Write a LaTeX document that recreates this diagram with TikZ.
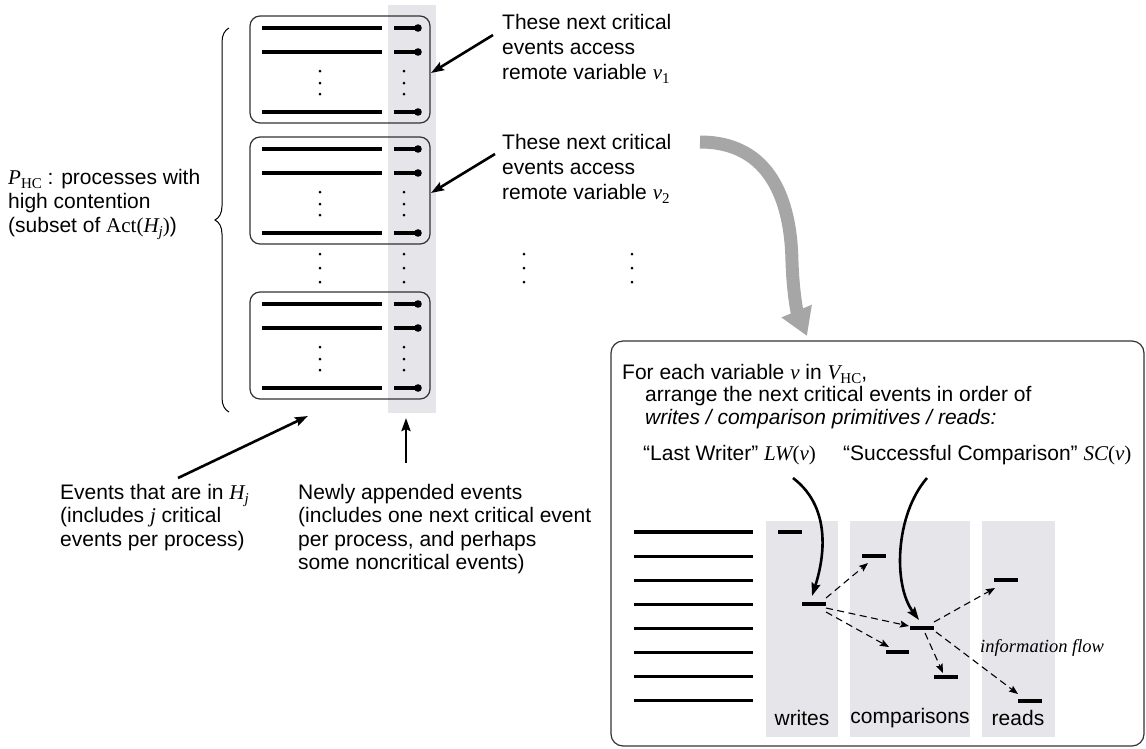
\documentclass[tikz,border=0pt]{standalone}
\usepackage{fontspec}
\setmainfont{Liberation Sans}
\newfontfamily\tms{Liberation Serif}
\usetikzlibrary{arrows.meta,decorations.pathreplacing}
\definecolor{colgrey}{RGB}{230,229,233}
\definecolor{bigarrow}{RGB}{166,166,166}
\definecolor{boxline}{RGB}{50,50,50}
\newcommand\ivar[1]{{\tms\itshape #1}}
\newcommand\rvar[1]{{\tms #1}}
\newcommand\subs[1]{\raisebox{-0.35ex}{\fontsize{15}{15}\selectfont\tms #1}}
\newcommand\grp[2]{%
  \node[gbox] (#1) at (340,#2+53.5) {};
  \foreach \dy in {12,36,96} {
    \draw[evline] (262,#2+\dy) -- (382,#2+\dy);
    \draw[evline] (394,#2+\dy) -- (418,#2+\dy);
    \fill (418,#2+\dy) circle[radius=3.8pt];
  }
  \foreach \dy in {55,67,78} {
    \fill (320,#2+\dy) circle[radius=1.5pt];
    \fill (404,#2+\dy) circle[radius=1.5pt];
  }
}
\begin{document}
\begin{tikzpicture}[x=1pt,y=-1pt,
  txt/.style={font=\fontsize{21}{25}\selectfont, inner sep=0pt, anchor=north west, align=left},
  gbox/.style={draw=boxline, line width=1.2pt, rounded corners=10pt, minimum width=180pt, minimum height=107pt, inner sep=0pt},
  evline/.style={line width=3.2pt},
  arr/.style={line width=2.6pt, -{Stealth[length=13pt,width=9pt,inset=2pt]}},
  darr/.style={line width=1.1pt, dash pattern=on 7pt off 4.5pt, -{Stealth[length=9pt,width=7pt,inset=1.5pt]}},
  seg/.style={line width=3.2pt},
  lbl/.style={font=\fontsize{21}{25}\selectfont, inner sep=0pt}
]
\useasboundingbox (0,0) rectangle (1146,748);

% grey column of newly appended events
\fill[colgrey] (388,5) rectangle (436,413);

% groups of processes
\grp{g1}{16}
\grp{g2}{137}
\grp{g3}{292}

% dots between groups
\foreach \yy in {254,268,282} {
  \fill (320,\yy) circle[radius=1.5pt];
  \fill (404,\yy) circle[radius=1.5pt];
  \fill (524,\yy) circle[radius=1.5pt];
  \fill (632,\yy) circle[radius=1.5pt];
}

% brace
\draw[line width=1pt, decorate, decoration={brace, amplitude=14pt}] (229,412) -- (229,28);

% texts on the left part
\node[txt] (t1) at (502,14) {These next critical\\events access\\remote variable \ivar{v}\subs{1}};
\node[txt] (t2) at (502,134) {These next critical\\events access\\remote variable \ivar{v}\subs{2}};
\node[txt, font=\fontsize{21}{24}\selectfont] (tp) at (8,169) {\ivar{P}\subs{HC} : processes with\\high contention\\(subset of \rvar{Act(}\ivar{H}\subs{\itshape j}\rvar{)})};
\node[txt, font=\fontsize{21}{23.5}\selectfont] (te) at (60,484) {Events that are in \ivar{H}\subs{\itshape j}\\(includes \ivar{j} critical\\events per process)};
\node[txt, font=\fontsize{21}{23.5}\selectfont] (tn) at (298,484) {Newly appended events\\(includes one next critical event\\per process, and perhaps\\some noncritical events)};

% arrows of the left part
\coordinate (a1s) at (493,35);  \coordinate (a1e) at (431,73);
\coordinate (a2s) at (495,154); \coordinate (a2e) at (431,193);
\coordinate (a3s) at (178,478); \coordinate (a3e) at (308,416);
\coordinate (a4s) at (406,463); \coordinate (a4e) at (406,418);
\draw[arr] (a1s) -- (a1e);
\draw[arr] (a2s) -- (a2e);
\draw[arr] (a3s) -- (a3e);
\draw[arr] (a4s) -- (a4e);

% big grey arrow
\coordinate (gs) at (700,142);
\coordinate (ge) at (807,336);
\draw[line width=13pt, bigarrow, -{Triangle[length=27pt,width=31pt]}] (gs) .. controls (770,142) and (791,200) .. (792,262) .. controls (793,292) and (797,312) .. (ge);

% right box
\node[draw=boxline, line width=1.2pt, rounded corners=12pt, minimum width=533pt, minimum height=405pt, inner sep=0pt] (rb) at (877.5,543.5) {};

\node[txt] (tf) at (622,364) {For each variable \ivar{v} in \ivar{V}\subs{HC},};
\node[txt, font=\fontsize{21}{23}\selectfont] (ta) at (645,386) {arrange the next critical events in order of\\{\itshape writes / comparison primitives / reads:}};
\node[txt] (tlw) at (643,445) {“Last Writer” \ivar{LW}\rvar{(}\ivar{v}\rvar{)}};
\node[txt] (tsc) at (843,445) {“Successful Comparison” \ivar{SC}\rvar{(}\ivar{v}\rvar{)}};

% columns
\fill[colgrey] (766,521) rectangle (838,737);
\fill[colgrey] (850,521) rectangle (970,737);
\fill[colgrey] (982,521) rectangle (1055,737);

% process lines
\foreach \k in {0,...,7} {
  \draw[evline] (634,532+24.1*\k) -- (753,532+24.1*\k);
}

% events in columns
\draw[seg] (778,532) -- (802,532);
\draw[seg] (802,604) -- (826,604);
\draw[seg] (862,556) -- (886,556);
\draw[seg] (910,628) -- (934,628);
\draw[seg] (886,652) -- (909,652);
\draw[seg] (934,677) -- (958,677);
\draw[seg] (994,580) -- (1018,580);
\draw[seg] (1018,701) -- (1042,701);

\node[lbl] (lw1) at (802,718) {writes};
\node[lbl] (lc1) at (910,718) {comparisons};
\node[lbl] (lr1) at (1018,718) {reads};
\node[inner sep=0pt, anchor=west, font=\fontsize{18.5}{20}\selectfont\tms\itshape] (inf) at (980,648) {information flow};

% curved solid arrows
\coordinate (lws) at (793,478); \coordinate (lwe) at (812,596);
\coordinate (scs) at (927,478); \coordinate (sce) at (919,620);
\draw[arr] (lws) .. controls (835,510) and (822,565) .. (lwe);
\draw[arr] (scs) .. controls (895,515) and (893,585) .. (sce);

% dashed information flow arrows
\coordinate (w4a) at (826,598); \coordinate (c2t) at (868,563);
\coordinate (w4b) at (826,608); \coordinate (c5t) at (909,626);
\coordinate (w4c) at (826,612); \coordinate (c6t) at (889,647);
\coordinate (c5a) at (934,622); \coordinate (r3t) at (995,588);
\coordinate (c5b) at (925,633); \coordinate (c7t) at (943,673);
\coordinate (c5c) at (936,632); \coordinate (r8t) at (1018,694);
\draw[darr] (w4a) -- (c2t);
\draw[darr] (w4b) -- (c5t);
\draw[darr] (w4c) -- (c6t);
\draw[darr] (c5a) -- (r3t);
\draw[darr] (c5b) -- (c7t);
\draw[darr] (c5c) -- (r8t);
\end{tikzpicture}
\end{document}
